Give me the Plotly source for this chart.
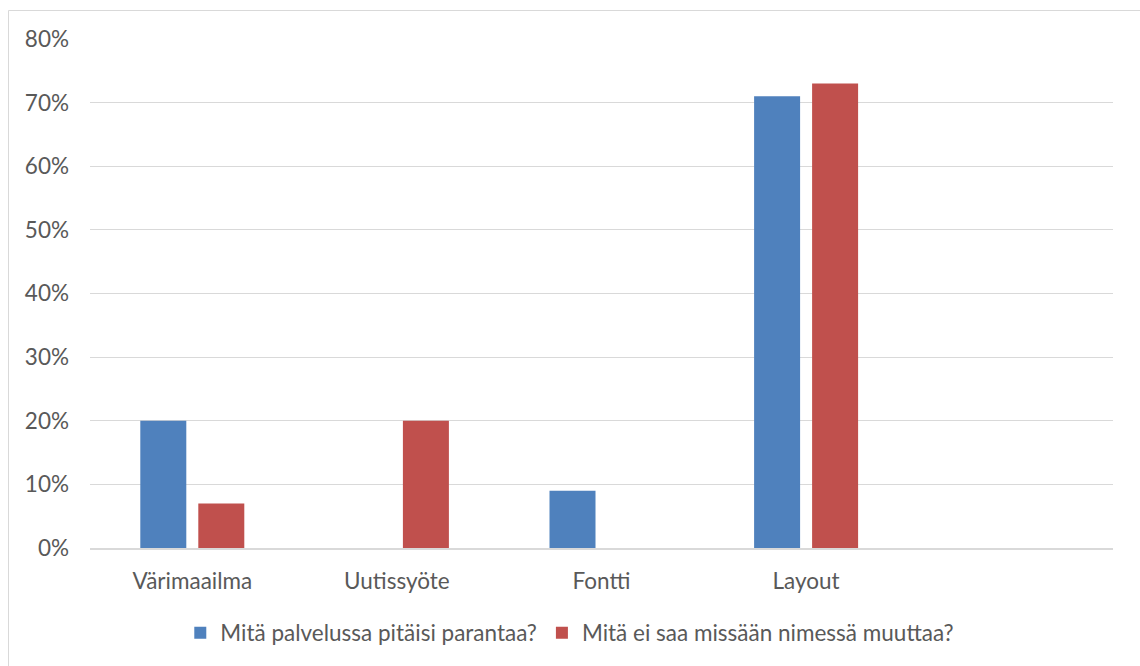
import plotly.graph_objects as go

categories = ["Värimaailma", "Uutissyöte", "Fontti", "Layout"]
series_names = ["Mitä palvelussa pitäisi parantaa?", "Mitä ei saa missään nimessä muuttaa?"]
improve = [0.20, 0.00, 0.09, 0.71]
keep = [0.07, 0.20, 0.00, 0.73]
colors = ["#4F81BD", "#C0504D"]

W, H = 1140, 666
L, R, T, B = 90, 27, 39, 118
pw, ph = W - L - R, H - T - B

def px2paper_x(px):
    return (px - L) / pw

def px2paper_y(py):
    return (H - B - py) / ph

fig = go.Figure()
for name, vals, col in zip(series_names, [improve, keep], colors):
    fig.add_trace(go.Bar(x=categories, y=vals, name=name, marker_color=col,
                         marker_line_width=0))

font_family = "Lato, 'Open Sans', sans-serif"
FS = 22.5
fig.update_layout(
    width=W, height=H,
    margin=dict(l=L, r=R, t=T, b=B),
    paper_bgcolor="white", plot_bgcolor="white",
    barmode="group", bargap=0.433, bargroupgap=0.207,
    font=dict(family=font_family, size=FS, color="#595959"),
    xaxis=dict(type="category", range=[-0.5, 4.5], showgrid=False,
               showline=True, linecolor="#D9D9D9", linewidth=1.5,
               ticks="", ticklabelstandoff=12, tickfont=dict(size=FS, color="#595959")),
    yaxis=dict(range=[0, 0.8], dtick=0.1, tickformat=".0%", showgrid=True,
               gridcolor="#D9D9D9", gridwidth=1, zeroline=False, showline=False,
               ticks="", ticklabelstandoff=20, tickfont=dict(size=FS, color="#595959")),
    legend=dict(orientation="h", x=0.469, xanchor="center", y=px2paper_y(633), yanchor="middle",
                font=dict(size=FS, color="#595959"), traceorder="normal"),
    shapes=[dict(type="rect", xref="paper", yref="paper",
                 x0=px2paper_x(8.5), x1=px2paper_x(1150),
                 y0=px2paper_y(680), y1=px2paper_y(10.5),
                 line=dict(color="#D9D9D9", width=1), layer="below")],
    showlegend=True,
)

fig.write_html("out.html")
